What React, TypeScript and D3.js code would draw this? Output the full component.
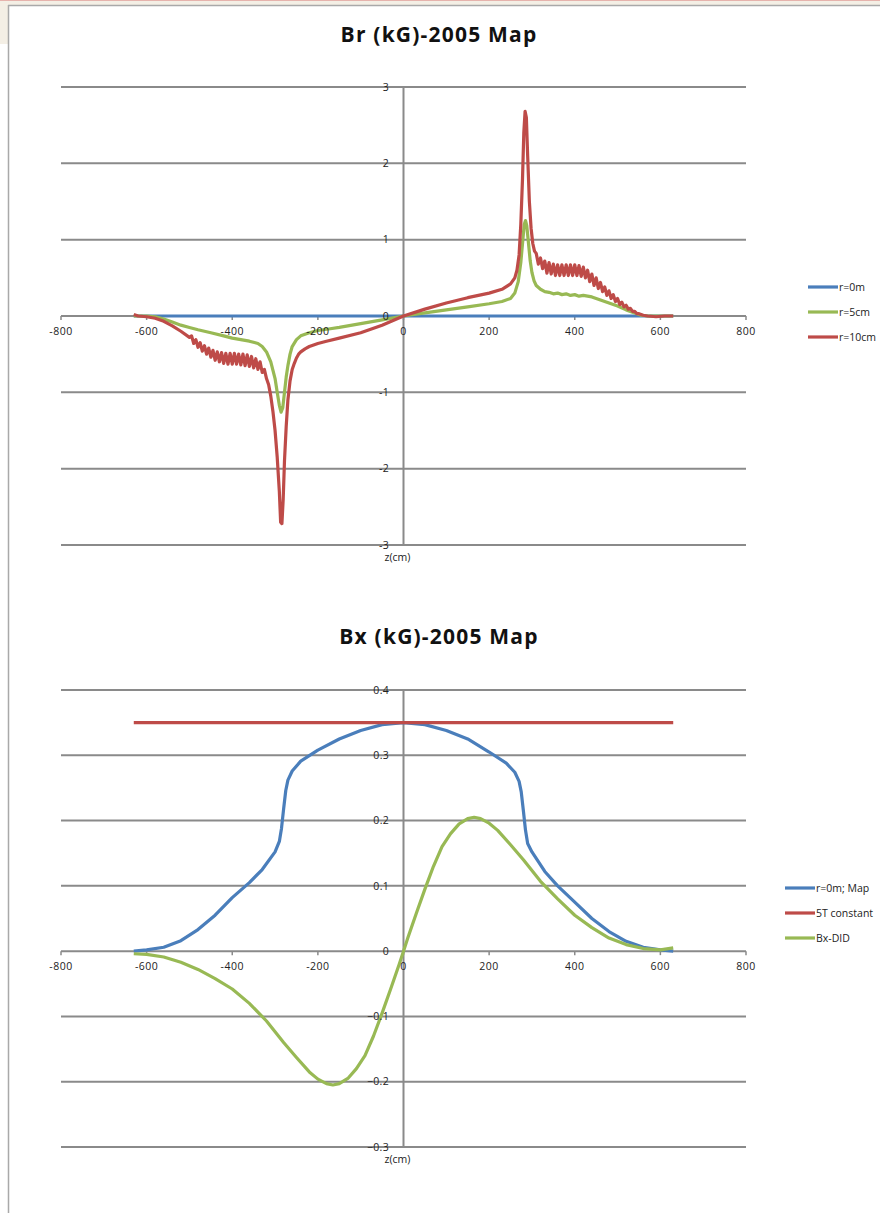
import React from "react";
import * as d3 from "d3";

// ---- top chart: Br (kG) ----
const brBlue: [number, number][] = [
  [-630, 0], [-400, 0], [-200, 0], [0, 0], [200, 0], [400, 0], [630, 0],
];

const brGreen: [number, number][] = [
  [-630, 0], [-600, 0], [-580, -0.01], [-560, -0.04], [-540, -0.08], [-520, -0.12],
  [-500, -0.15], [-480, -0.18], [-450, -0.22], [-420, -0.26], [-400, -0.29],
  [-380, -0.31], [-360, -0.33], [-340, -0.36], [-330, -0.4], [-320, -0.47],
  [-310, -0.6], [-300, -0.82], [-295, -1.0], [-290, -1.17], [-286, -1.26],
  [-282, -1.2], [-278, -1.0], [-274, -0.8], [-270, -0.65], [-265, -0.5],
  [-260, -0.4], [-250, -0.31], [-240, -0.26], [-220, -0.22], [-200, -0.19],
  [-175, -0.17], [-150, -0.15], [-100, -0.1], [-50, -0.05], [0, 0],
  [50, 0.04], [100, 0.08], [150, 0.12], [200, 0.16], [230, 0.19], [250, 0.23],
  [260, 0.3], [268, 0.45], [274, 0.7], [278, 0.95], [282, 1.2], [285, 1.25],
  [288, 1.18], [292, 0.95], [296, 0.72], [300, 0.57], [305, 0.46], [310, 0.4],
  [320, 0.35], [330, 0.32], [340, 0.31], [350, 0.29], [360, 0.3], [370, 0.28],
  [380, 0.29], [390, 0.27], [400, 0.28], [410, 0.26], [420, 0.27], [440, 0.25],
  [460, 0.21], [480, 0.17], [500, 0.13], [520, 0.08], [540, 0.04], [555, 0.01],
  [570, 0], [630, 0],
];

const brRed: [number, number][] = [
  [-630, 0.02], [-620, 0], [-600, -0.01], [-580, -0.03], [-560, -0.07],
  [-540, -0.13], [-520, -0.2], [-500, -0.28],
  [-495, -0.26], [-490, -0.36], [-485, -0.31], [-480, -0.41], [-475, -0.35],
  [-470, -0.46], [-465, -0.39], [-460, -0.5], [-455, -0.42], [-450, -0.54],
  [-445, -0.45], [-440, -0.58], [-435, -0.47], [-430, -0.6], [-425, -0.48],
  [-420, -0.62], [-415, -0.49], [-410, -0.63], [-405, -0.49], [-400, -0.63],
  [-395, -0.49], [-390, -0.63], [-385, -0.5], [-380, -0.64], [-375, -0.5],
  [-370, -0.65], [-365, -0.51], [-360, -0.66], [-355, -0.53], [-350, -0.68],
  [-345, -0.56], [-340, -0.7], [-335, -0.6], [-330, -0.74], [-325, -0.7],
  [-320, -0.82], [-315, -0.9], [-310, -1.05], [-305, -1.25], [-300, -1.5],
  [-295, -1.85], [-290, -2.3], [-287, -2.7], [-284, -2.72], [-281, -2.4],
  [-278, -1.9], [-274, -1.45], [-270, -1.1], [-265, -0.85], [-260, -0.7],
  [-255, -0.62], [-250, -0.55], [-245, -0.5], [-240, -0.47], [-230, -0.43],
  [-220, -0.4], [-200, -0.36], [-180, -0.33], [-150, -0.29], [-100, -0.22],
  [-50, -0.12], [0, 0],
  [50, 0.09], [100, 0.17], [150, 0.24], [200, 0.3], [230, 0.35], [250, 0.42],
  [260, 0.5], [265, 0.6], [270, 0.8], [274, 1.2], [278, 1.8], [281, 2.4],
  [284, 2.68], [287, 2.6], [290, 2.1], [294, 1.5], [298, 1.15], [302, 0.95],
  [306, 0.85], [310, 0.82], [315, 0.68], [320, 0.76], [325, 0.62], [330, 0.72],
  [335, 0.56], [340, 0.7], [345, 0.55], [350, 0.68], [355, 0.53], [360, 0.67],
  [365, 0.53], [370, 0.67], [375, 0.53], [380, 0.67], [385, 0.53], [390, 0.67],
  [395, 0.53], [400, 0.67], [405, 0.53], [410, 0.66], [415, 0.52], [420, 0.64],
  [425, 0.5], [430, 0.6], [435, 0.45], [440, 0.55], [445, 0.4], [450, 0.5],
  [455, 0.36], [460, 0.44], [465, 0.32], [470, 0.38], [475, 0.27], [480, 0.33],
  [485, 0.23], [490, 0.28], [495, 0.19], [500, 0.23], [505, 0.15], [510, 0.18],
  [515, 0.12], [520, 0.14], [525, 0.09], [530, 0.1], [535, 0.06], [540, 0.06],
  [545, 0.03], [550, 0.03], [560, 0.01], [570, 0], [590, -0.01], [610, 0],
  [630, 0],
];

// ---- bottom chart: Bx (kG) ----
const bxMap: [number, number][] = [
  [-630, 0], [-600, 0.002], [-560, 0.006], [-520, 0.016], [-480, 0.033],
  [-440, 0.055], [-400, 0.082], [-360, 0.105], [-330, 0.125], [-300, 0.152],
  [-290, 0.168], [-285, 0.188], [-280, 0.218], [-275, 0.246], [-270, 0.262],
  [-260, 0.276], [-240, 0.291], [-200, 0.308], [-150, 0.325], [-100, 0.338],
  [-50, 0.347], [0, 0.35], [50, 0.347], [100, 0.338], [150, 0.325],
  [200, 0.305], [240, 0.288], [260, 0.274], [270, 0.26], [275, 0.244],
  [280, 0.215], [285, 0.185], [290, 0.165], [300, 0.152], [330, 0.122],
  [360, 0.1], [400, 0.075], [440, 0.05], [480, 0.03], [520, 0.015],
  [560, 0.006], [600, 0.002], [630, 0],
];

const bxConst: [number, number][] = [
  [-630, 0.35], [-300, 0.35], [0, 0.35], [300, 0.35], [630, 0.35],
];

const bxDid: [number, number][] = [
  [-630, -0.004], [-600, -0.005], [-560, -0.009], [-520, -0.017], [-480, -0.028],
  [-440, -0.042], [-400, -0.058], [-360, -0.08], [-320, -0.107], [-280, -0.14],
  [-250, -0.163], [-220, -0.185], [-200, -0.196], [-180, -0.203], [-165, -0.205],
  [-150, -0.203], [-130, -0.195], [-110, -0.18], [-90, -0.16], [-70, -0.13],
  [-50, -0.095], [-30, -0.058], [-10, -0.02], [0, 0], [10, 0.02], [30, 0.058],
  [50, 0.095], [70, 0.13], [90, 0.16], [110, 0.18], [130, 0.195], [150, 0.203],
  [165, 0.205], [180, 0.203], [200, 0.196], [220, 0.185], [250, 0.163],
  [280, 0.14], [320, 0.107], [360, 0.08], [400, 0.055], [440, 0.036],
  [480, 0.02], [520, 0.01], [560, 0.004], [600, 0.002], [630, 0.005],
];

const xTicks = [-800, -600, -400, -200, 0, 200, 400, 600, 800];
const brTicks = [-3, -2, -1, 0, 1, 2, 3];
const bxTicks = [-0.3, -0.2, -0.1, 0, 0.1, 0.2, 0.3, 0.4];

const BLUE = "#4a7ebb";
const RED = "#be4b48";
const GREEN = "#98b954";
const GRID = "#8a8a8a";
const FONT = "'Open Sans', 'Liberation Sans', sans-serif";

type Series = { name: string; color: string; data: [number, number][] };

const Chart = ({ title, titleY, top, bottom, domain, ticks, fmt, series, legendX, legendY, legendGap }: any) => {
  const x = d3.scaleLinear().domain([-800, 800]).range([61, 746]);
  const y = d3.scaleLinear().domain(domain).range([bottom, top]);
  const line = d3.line<[number, number]>().x(d => x(d[0])).y(d => y(d[1]));
  return (
    <g>
      <text x={439} y={titleY} textAnchor="middle" fontFamily={FONT} fontWeight="700" fontSize="21" letterSpacing="1.2" fill="#111">
        {title}
      </text>
      {ticks.map((t: number) => (
        <line key={"g" + t} x1={x(-800)} x2={x(800)} y1={y(t)} y2={y(t)} stroke={GRID} strokeWidth={2} />
      ))}
      <line x1={x(0)} x2={x(0)} y1={y(domain[1])} y2={y(domain[0])} stroke={GRID} strokeWidth={2} />
      {xTicks.map(t => (
        <line key={"t" + t} x1={x(t)} x2={x(t)} y1={y(0)} y2={y(0) + 4} stroke={GRID} strokeWidth={1.5} />
      ))}
      {(series as Series[]).map(s => (
        <path key={s.name} d={line(s.data) || ""} fill="none" stroke={s.color} strokeWidth={3.2} strokeLinejoin="round" />
      ))}
      {ticks.map((t: number) => (
        <text key={"l" + t} x={389} y={y(t)} dy="0.35em" textAnchor="end" fontFamily={FONT} fontSize="10.5" letterSpacing="0.3" fill="#222">
          {fmt(t)}
        </text>
      ))}
      {xTicks.map(t => (
        <text key={"x" + t} x={x(t)} y={y(0) + 19} textAnchor="middle" fontFamily={FONT} fontSize="10.5" letterSpacing="0.5" fill="#222">
          {t}
        </text>
      ))}
      <text x={x(0) - 6} y={y(domain[0]) + 16} textAnchor="middle" fontFamily={FONT} fontSize="10.5" fill="#222">
        z(cm)
      </text>
      {(series as Series[]).map((s, i) => (
        <g key={"lg" + s.name} transform={`translate(${legendX},${legendY + i * legendGap})`}>
          <line x1={0} x2={30} y1={0} y2={0} stroke={s.color} strokeWidth={3.2} />
          <text x={31} y={0} dy="0.35em" fontFamily={FONT} fontSize="10.5" fill="#222">
            {s.name}
          </text>
        </g>
      ))}
    </g>
  );
};

export default function App() {
  return (
    <svg width={880} height={1213} style={{ position: "absolute", left: 0, top: 0 }}>
      <rect x={0} y={0} width={880} height={1213} fill="#fff" />
      <rect x={0} y={0} width={880} height={5} fill="#f4efe5" />
      <rect x={0} y={0} width={8} height={44} fill="#f4efe5" />
      <rect x={0} y={0} width={880} height={1} fill="#e6b3ad" />
      <line x1={8} x2={880} y1={5.5} y2={5.5} stroke="#a9a9a9" strokeWidth={1.5} />
      <line x1={8.5} x2={8.5} y1={5} y2={1213} stroke="#a9a9a9" strokeWidth={1.5} />
      <Chart
        title="Br (kG)-2005 Map"
        titleY={42}
        top={87}
        bottom={545}
        domain={[-3, 3]}
        ticks={brTicks}
        fmt={(t: number) => String(t)}
        series={[
          { name: "r=0m", color: BLUE, data: brBlue },
          { name: "r=5cm", color: GREEN, data: brGreen },
          { name: "r=10cm", color: RED, data: brRed },
        ]}
        legendX={808}
        legendY={287}
        legendGap={25}
      />
      <Chart
        title="Bx (kG)-2005 Map"
        titleY={644}
        top={690}
        bottom={1147}
        domain={[-0.3, 0.4]}
        ticks={bxTicks}
        fmt={(t: number) => (t === 0 ? "0" : d3.format(".1f")(t))}
        series={[
          { name: "r=0m; Map", color: BLUE, data: bxMap },
          { name: "5T constant", color: RED, data: bxConst },
          { name: "Bx-DID", color: GREEN, data: bxDid },
        ]}
        legendX={785}
        legendY={888}
        legendGap={25}
      />
    </svg>
  );
}
